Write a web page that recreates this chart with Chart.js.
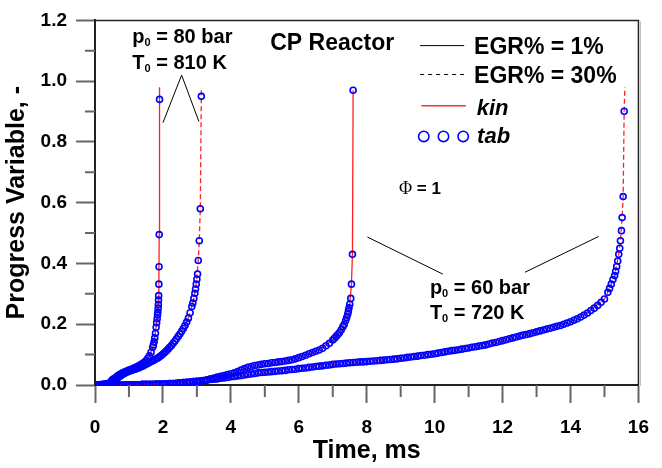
<!DOCTYPE html>
<html>
<head>
<meta charset="utf-8">
<script src="https://cdn.jsdelivr.net/npm/chart.js@4"></script>
<style>
  html, body { margin: 0; padding: 0; background: #fff; }
  #wrap { width: 662px; height: 468px; }
</style>
</head>
<body>
<div id="wrap"><canvas id="chart" width="662" height="468"></canvas></div>
<script>
// axis ticks
const xTicks = [0, 2, 4, 6, 8, 10, 12, 14, 16];
const yTicks = [0.0, 0.2, 0.4, 0.6, 0.8, 1.0, 1.2];

// p0 = 80 bar, EGR 1% (kin line + tab circles)
const kin80egr1T = [0, 0.3, 0.5, 0.7, 1.0, 1.3, 1.5, 1.6, 1.7, 1.8, 1.85, 1.87, 1.88, 1.89, 1.9, 1.9];
const kin80egr1V = [0, 0.003, 0.016, 0.033, 0.049, 0.064, 0.080, 0.096, 0.124, 0.190, 0.240, 0.280, 0.332, 0.495, 0.940, 0.98];
const tab80egr1T = [0, 0.05, 0.1, 0.15, 0.2, 0.25, 0.3, 0.35, 0.4, 0.45, 0.5, 0.55, 0.6, 0.65, 0.7, 0.75, 0.8, 0.85, 0.9, 0.95,
  1.0, 1.05, 1.1, 1.15, 1.2, 1.25, 1.3, 1.35, 1.4, 1.45, 1.5, 1.55, 1.6, 1.65, 1.7, 1.72, 1.74, 1.76, 1.78, 1.8,
  1.815, 1.83, 1.84, 1.85, 1.86, 1.865, 1.87, 1.875, 1.88, 1.885, 1.89, 1.9];
const tab80egr1V = [0, 0, 0.001, 0.001, 0.002, 0.002, 0.003, 0.004, 0.006, 0.008, 0.016, 0.020, 0.024, 0.029, 0.033, 0.036, 0.039, 0.042, 0.044, 0.047,
  0.049, 0.051, 0.053, 0.056, 0.058, 0.061, 0.064, 0.067, 0.071, 0.075, 0.080, 0.087, 0.096, 0.108, 0.124, 0.132, 0.142, 0.155, 0.170, 0.190,
  0.205, 0.218, 0.230, 0.240, 0.253, 0.265, 0.280, 0.294, 0.332, 0.389, 0.495, 0.940];

// p0 = 80 bar, EGR 30%
const kin80egr30T = [0, 0.5, 0.7, 1.0, 1.5, 2.0, 2.5, 2.75, 2.9, 2.98, 3.04, 3.07, 3.1, 3.13, 3.13];
const kin80egr30V = [0, 0.008, 0.026, 0.045, 0.068, 0.102, 0.168, 0.220, 0.280, 0.332, 0.410, 0.475, 0.580, 0.950, 0.98];
const tab80egr30T = [0, 0.05, 0.1, 0.15, 0.2, 0.25, 0.3, 0.35, 0.4, 0.45, 0.5, 0.55, 0.6, 0.65, 0.7, 0.75, 0.8, 0.85, 0.9, 0.95,
  1.0, 1.05, 1.1, 1.15, 1.2, 1.25, 1.3, 1.35, 1.4, 1.45, 1.5, 1.55, 1.6, 1.65, 1.7, 1.75, 1.8, 1.85, 1.9, 1.95,
  2.0, 2.05, 2.1, 2.15, 2.2, 2.25, 2.3, 2.35, 2.4, 2.45, 2.5, 2.55, 2.6, 2.65, 2.7, 2.75, 2.8, 2.85, 2.88, 2.91,
  2.94, 2.96, 2.98, 3.0, 3.02, 3.04, 3.07, 3.1, 3.13];
const tab80egr30V = [0, 0, 0, 0.001, 0.001, 0.001, 0.002, 0.003, 0.004, 0.006, 0.008, 0.012, 0.016, 0.021, 0.026, 0.030, 0.034, 0.037, 0.040, 0.043,
  0.045, 0.047, 0.049, 0.051, 0.053, 0.055, 0.057, 0.060, 0.062, 0.065, 0.068, 0.071, 0.074, 0.077, 0.080, 0.083, 0.086, 0.089, 0.093, 0.097,
  0.102, 0.107, 0.112, 0.118, 0.124, 0.130, 0.137, 0.144, 0.152, 0.160, 0.168, 0.177, 0.186, 0.196, 0.207, 0.220, 0.238, 0.258, 0.270, 0.285,
  0.302, 0.316, 0.332, 0.348, 0.365, 0.410, 0.475, 0.580, 0.950];

// p0 = 60 bar, EGR 1%
const kin60egr1T = [0, 1, 2, 3, 3.5, 4, 4.3, 4.6, 5, 5.5, 6, 6.5, 7, 7.2, 7.34, 7.44, 7.5, 7.55, 7.58, 7.6];
const kin60egr1V = [0, 0.001, 0.003, 0.012, 0.023, 0.037, 0.049, 0.061, 0.070, 0.077, 0.090, 0.111, 0.148, 0.173, 0.200, 0.233, 0.266, 0.332, 0.430, 0.970];
const tab60egr1T = [0, 0.1, 0.2, 0.3, 0.4, 0.5, 0.6, 0.7, 0.8, 0.9, 1.0, 1.1, 1.2, 1.3, 1.4, 1.5, 1.6, 1.7, 1.8, 1.9,
  2.0, 2.1, 2.2, 2.3, 2.4, 2.5, 2.6, 2.7, 2.8, 2.9, 3.0, 3.1, 3.2, 3.3, 3.4, 3.5, 3.6, 3.7, 3.8, 3.9,
  4.0, 4.1, 4.2, 4.3, 4.4, 4.5, 4.6, 4.7, 4.8, 4.9, 5.0, 5.1, 5.2, 5.3, 5.4, 5.5, 5.6, 5.7, 5.8, 5.9,
  6.0, 6.1, 6.2, 6.3, 6.4, 6.5, 6.6, 6.7, 6.8, 6.9, 7.0, 7.05, 7.1, 7.15, 7.2, 7.25, 7.3, 7.34, 7.38, 7.41,
  7.44, 7.46, 7.48, 7.5, 7.53, 7.55, 7.58, 7.6];
const tab60egr1V = [0, 0, 0, 0, 0, 0, 0, 0, 0, 0.001, 0.001, 0.001, 0.001, 0.001, 0.002, 0.002, 0.002, 0.002, 0.003, 0.003,
  0.003, 0.004, 0.005, 0.005, 0.006, 0.007, 0.008, 0.009, 0.010, 0.011, 0.012, 0.013, 0.015, 0.017, 0.020, 0.023, 0.026, 0.029, 0.031, 0.034,
  0.037, 0.040, 0.044, 0.049, 0.054, 0.058, 0.061, 0.064, 0.066, 0.068, 0.070, 0.071, 0.073, 0.074, 0.076, 0.077, 0.079, 0.081, 0.083, 0.086,
  0.090, 0.094, 0.098, 0.103, 0.107, 0.111, 0.115, 0.121, 0.129, 0.137, 0.148, 0.154, 0.160, 0.166, 0.173, 0.182, 0.192, 0.200, 0.212, 0.222,
  0.233, 0.243, 0.254, 0.266, 0.285, 0.332, 0.430, 0.970];

// p0 = 60 bar, EGR 30%
const kin60egr30T = [0, 1, 2, 3, 4, 5, 6, 7, 8, 9, 10, 11, 12, 13, 14, 14.5, 15, 15.2, 15.3, 15.42, 15.47, 15.52, 15.55, 15.58, 15.6];
const kin60egr30V = [0, 0.001, 0.003, 0.012, 0.027, 0.042, 0.054, 0.068, 0.077, 0.088, 0.103, 0.122, 0.146, 0.175, 0.208, 0.241, 0.283, 0.332, 0.360, 0.430, 0.475, 0.551, 0.620, 0.901, 0.98];
const tab60egr30T = [0, 0.1, 0.2, 0.3, 0.4, 0.5, 0.6, 0.7, 0.8, 0.9, 1.0, 1.1, 1.2, 1.3, 1.4, 1.5, 1.6, 1.7, 1.8, 1.9,
  2.0, 2.1, 2.2, 2.3, 2.4, 2.5, 2.6, 2.7, 2.8, 2.9, 3.0, 3.1, 3.2, 3.3, 3.4, 3.5, 3.6, 3.7, 3.8, 3.9,
  4.0, 4.1, 4.2, 4.3, 4.4, 4.5, 4.6, 4.7, 4.8, 4.9, 5.0, 5.1, 5.2, 5.3, 5.4, 5.5, 5.6, 5.7, 5.8, 5.9,
  6.0, 6.1, 6.2, 6.3, 6.4, 6.5, 6.6, 6.7, 6.8, 6.9, 7.0, 7.1, 7.2, 7.3, 7.4, 7.5, 7.6, 7.7, 7.8, 7.9,
  8.0, 8.1, 8.2, 8.3, 8.4, 8.5, 8.6, 8.7, 8.8, 8.9, 9.0, 9.1, 9.2, 9.3, 9.4, 9.5, 9.6, 9.7, 9.8, 9.9,
  10.0, 10.1, 10.2, 10.3, 10.4, 10.5, 10.6, 10.7, 10.8, 10.9, 11.0, 11.1, 11.2, 11.3, 11.4, 11.5, 11.6, 11.7, 11.8, 11.9,
  12.0, 12.1, 12.2, 12.3, 12.4, 12.5, 12.6, 12.7, 12.8, 12.9, 13.0, 13.1, 13.2, 13.3, 13.4, 13.5, 13.6, 13.7, 13.8, 13.9,
  14.0, 14.1, 14.2, 14.3, 14.4, 14.5, 14.6, 14.7, 14.8, 14.9, 15.0, 15.1, 15.15, 15.2, 15.25, 15.3, 15.33, 15.36, 15.39, 15.42,
  15.45, 15.47, 15.5, 15.52, 15.55, 15.58];
const tab60egr30V = [0, 0, 0, 0, 0, 0, 0, 0, 0, 0.001, 0.001, 0.001, 0.001, 0.001, 0.002, 0.002, 0.002, 0.002, 0.003, 0.003,
  0.003, 0.004, 0.005, 0.005, 0.006, 0.007, 0.008, 0.009, 0.010, 0.011, 0.012, 0.013, 0.015, 0.016, 0.018, 0.019, 0.020, 0.022, 0.023, 0.025,
  0.027, 0.028, 0.030, 0.031, 0.033, 0.035, 0.036, 0.038, 0.040, 0.041, 0.042, 0.043, 0.044, 0.045, 0.046, 0.047, 0.048, 0.050, 0.051, 0.052,
  0.054, 0.055, 0.056, 0.058, 0.059, 0.061, 0.062, 0.063, 0.065, 0.066, 0.068, 0.069, 0.070, 0.071, 0.072, 0.073, 0.074, 0.075, 0.076, 0.076,
  0.077, 0.078, 0.079, 0.080, 0.081, 0.082, 0.083, 0.084, 0.085, 0.086, 0.088, 0.089, 0.091, 0.092, 0.094, 0.095, 0.097, 0.098, 0.100, 0.101,
  0.103, 0.105, 0.107, 0.109, 0.111, 0.113, 0.114, 0.116, 0.118, 0.120, 0.122, 0.124, 0.126, 0.128, 0.130, 0.132, 0.135, 0.138, 0.140, 0.143,
  0.146, 0.149, 0.152, 0.155, 0.158, 0.161, 0.164, 0.166, 0.169, 0.172, 0.175, 0.178, 0.181, 0.184, 0.187, 0.190, 0.193, 0.196, 0.200, 0.204,
  0.208, 0.213, 0.218, 0.224, 0.230, 0.237, 0.245, 0.253, 0.262, 0.272, 0.283, 0.305, 0.318, 0.332, 0.347, 0.360, 0.374, 0.390, 0.408, 0.430,
  0.450, 0.475, 0.508, 0.551, 0.620, 0.901];

const FONT = "'Liberation Sans', Arial, sans-serif";

function pts(ts, vs) {
  return ts.map((t, i) => ({ x: t, y: vs[i] }));
}

function tabSet(ts, vs) {
  return {
    data: pts(ts, vs),
    showLine: false,
    pointStyle: "circle",
    pointRadius: 3,
    pointBorderWidth: 1.6,
    borderColor: "#0000ff",
    pointBorderColor: "#0000ff",
    backgroundColor: "rgba(0,0,0,0)",
    pointBackgroundColor: "rgba(0,0,0,0)",
    order: 0,
  };
}

function kinSet(ts, vs, dashed) {
  return {
    data: pts(ts, vs),
    showLine: true,
    pointRadius: 0,
    borderColor: "#ff2020",
    borderWidth: 1.3,
    borderDash: dashed ? [5, 3] : [],
    backgroundColor: "rgba(0,0,0,0)",
    fill: false,
    order: 1,
  };
}

// text with a subscript zero, e.g. p0 = 80 bar
function subText(ctx, x, y, main, sub, rest, size) {
  ctx.font = "bold " + size + "px " + FONT;
  ctx.fillText(main, x, y);
  x += ctx.measureText(main).width;
  ctx.font = "bold " + Math.round(size * 0.55) + "px " + FONT;
  ctx.fillText(sub, x, y + 3);
  x += ctx.measureText(sub).width;
  ctx.font = "bold " + size + "px " + FONT;
  ctx.fillText(rest, x, y);
}

const extras = {
  id: "extras",
  afterDraw(chart) {
    const ctx = chart.ctx;
    const xs = chart.scales.x;
    const ys = chart.scales.y;
    const X = (v) => xs.getPixelForValue(v);
    const Y = (v) => ys.getPixelForValue(v);
    const area = chart.chartArea;

    ctx.save();

    // minor ticks
    ctx.strokeStyle = "#666";
    ctx.lineWidth = 2;
    ctx.beginPath();
    for (let t = 1; t < 16; t += 2) {
      ctx.moveTo(X(t), area.bottom);
      ctx.lineTo(X(t), area.bottom + 12);
    }
    for (let k = 1; k < 12; k += 2) {
      ctx.moveTo(area.left - 10, Y(k / 10));
      ctx.lineTo(area.left, Y(k / 10));
    }
    ctx.stroke();

    // frame top + right
    ctx.strokeStyle = "#222";
    ctx.lineWidth = 1.5;
    ctx.beginPath();
    ctx.moveTo(area.left, area.top);
    ctx.lineTo(area.right, area.top);
    ctx.lineTo(area.right, area.bottom);
    ctx.stroke();
    ctx.strokeStyle = "#bbb";
    ctx.lineWidth = 1;
    ctx.beginPath();
    ctx.moveTo(area.right + 2, area.top + 1);
    ctx.lineTo(area.right + 2, area.bottom + 1);
    ctx.stroke();

    ctx.fillStyle = "#000";
    ctx.textBaseline = "alphabetic";
    ctx.textAlign = "left";

    // annotations
    subText(ctx, X(1.10), Y(1.127), "p", "0", " = 80 bar", 20);
    subText(ctx, X(1.10), Y(1.039), "T", "0", " = 810 K", 20);
    subText(ctx, X(9.86), Y(0.298), "p", "0", " = 60 bar", 20);
    subText(ctx, X(9.86), Y(0.216), "T", "0", " = 720 K", 20);

    ctx.font = "bold 23px " + FONT;
    ctx.fillText("CP Reactor", X(5.16), Y(1.101));

    ctx.font = "18px 'Liberation Serif', serif";
    ctx.fillText("\u03A6", X(8.95), Y(0.63));
    let w = ctx.measureText("\u03A6").width;
    ctx.font = "bold 17px " + FONT;
    ctx.fillText(" = 1", X(8.95) + w, Y(0.63));

    // leader lines
    ctx.strokeStyle = "#000";
    ctx.lineWidth = 1;
    ctx.beginPath();
    ctx.moveTo(X(2.0), Y(0.863));
    ctx.lineTo(X(2.55), Y(1.02));
    ctx.lineTo(X(3.06), Y(0.867));
    ctx.moveTo(X(8.02), Y(0.487));
    ctx.lineTo(X(10.24), Y(0.365));
    ctx.moveTo(X(12.66), Y(0.371));
    ctx.lineTo(X(14.83), Y(0.489));
    ctx.stroke();

    // legend
    ctx.strokeStyle = "#000";
    ctx.lineWidth = 1;
    ctx.beginPath();
    ctx.moveTo(X(9.57), Y(1.117));
    ctx.lineTo(X(10.87), Y(1.117));
    ctx.stroke();
    ctx.setLineDash([4, 4]);
    ctx.beginPath();
    ctx.moveTo(X(9.57), Y(1.022));
    ctx.lineTo(X(10.87), Y(1.022));
    ctx.stroke();
    ctx.setLineDash([]);
    ctx.strokeStyle = "#ff3030";
    ctx.lineWidth = 1.5;
    ctx.beginPath();
    ctx.moveTo(X(9.61), Y(0.919));
    ctx.lineTo(X(10.92), Y(0.919));
    ctx.stroke();
    ctx.strokeStyle = "#0000ff";
    ctx.lineWidth = 1.6;
    [9.68, 10.26, 10.84].forEach((t) => {
      ctx.beginPath();
      ctx.arc(X(t), Y(0.818), 5.2, 0, Math.PI * 2);
      ctx.stroke();
    });

    ctx.font = "bold 23px " + FONT;
    ctx.fillText("EGR% = 1%", X(11.16), Y(1.088));
    ctx.fillText("EGR% = 30%", X(11.16), Y(0.993));
    ctx.font = "italic bold 22px " + FONT;
    ctx.fillText("kin", X(11.24), Y(0.889));
    ctx.fillText("tab", X(11.25), Y(0.797));

    ctx.restore();
  },
};

new Chart(document.getElementById("chart").getContext("2d"), {
  type: "scatter",
  data: {
    datasets: [
      tabSet(tab80egr1T, tab80egr1V),
      tabSet(tab80egr30T, tab80egr30V),
      tabSet(tab60egr1T, tab60egr1V),
      tabSet(tab60egr30T, tab60egr30V),
      kinSet(kin80egr1T, kin80egr1V, false),
      kinSet(kin80egr30T, kin80egr30V, true),
      kinSet(kin60egr1T, kin60egr1V, false),
      kinSet(kin60egr30T, kin60egr30V, true),
    ],
  },
  options: {
    responsive: false,
    animation: false,
    layout: { padding: { left: 0, top: 17, right: 15, bottom: 0 } },
    plugins: { legend: { display: false }, tooltip: { enabled: false } },
    scales: {
      x: {
        type: "linear",
        min: 0,
        max: 16,
        afterBuildTicks: (s) => { s.ticks = xTicks.map((v) => ({ value: v })); },
        ticks: { color: "#000", font: { family: FONT, size: 19, weight: "bold" }, padding: 13, maxRotation: 0 },
        grid: { drawOnChartArea: false, tickLength: 18, tickColor: "#666", tickWidth: 2 },
        border: { color: "#222", width: 2 },
        title: { display: true, text: "Time, ms", color: "#000", font: { family: FONT, size: 25, weight: "bold" }, padding: { top: 0, bottom: 2 } },
        afterFit: (s) => { s.height = 83; },
      },
      y: {
        type: "linear",
        min: 0,
        max: 1.2,
        afterBuildTicks: (s) => { s.ticks = yTicks.map((v) => ({ value: v })); },
        ticks: { color: "#000", font: { family: FONT, size: 19, weight: "bold" }, padding: 9, callback: (v) => v.toFixed(1) },
        grid: { drawOnChartArea: false, tickLength: 19, tickColor: "#666", tickWidth: 2 },
        border: { color: "#222", width: 2 },
        title: { display: true, text: "Progress Variable, -", color: "#000", font: { family: FONT, size: 25, weight: "bold" }, padding: { top: 2, bottom: 0 } },
        afterFit: (s) => { s.width = 95; },
      },
    },
  },
  plugins: [extras],
});
</script>
</body>
</html>
